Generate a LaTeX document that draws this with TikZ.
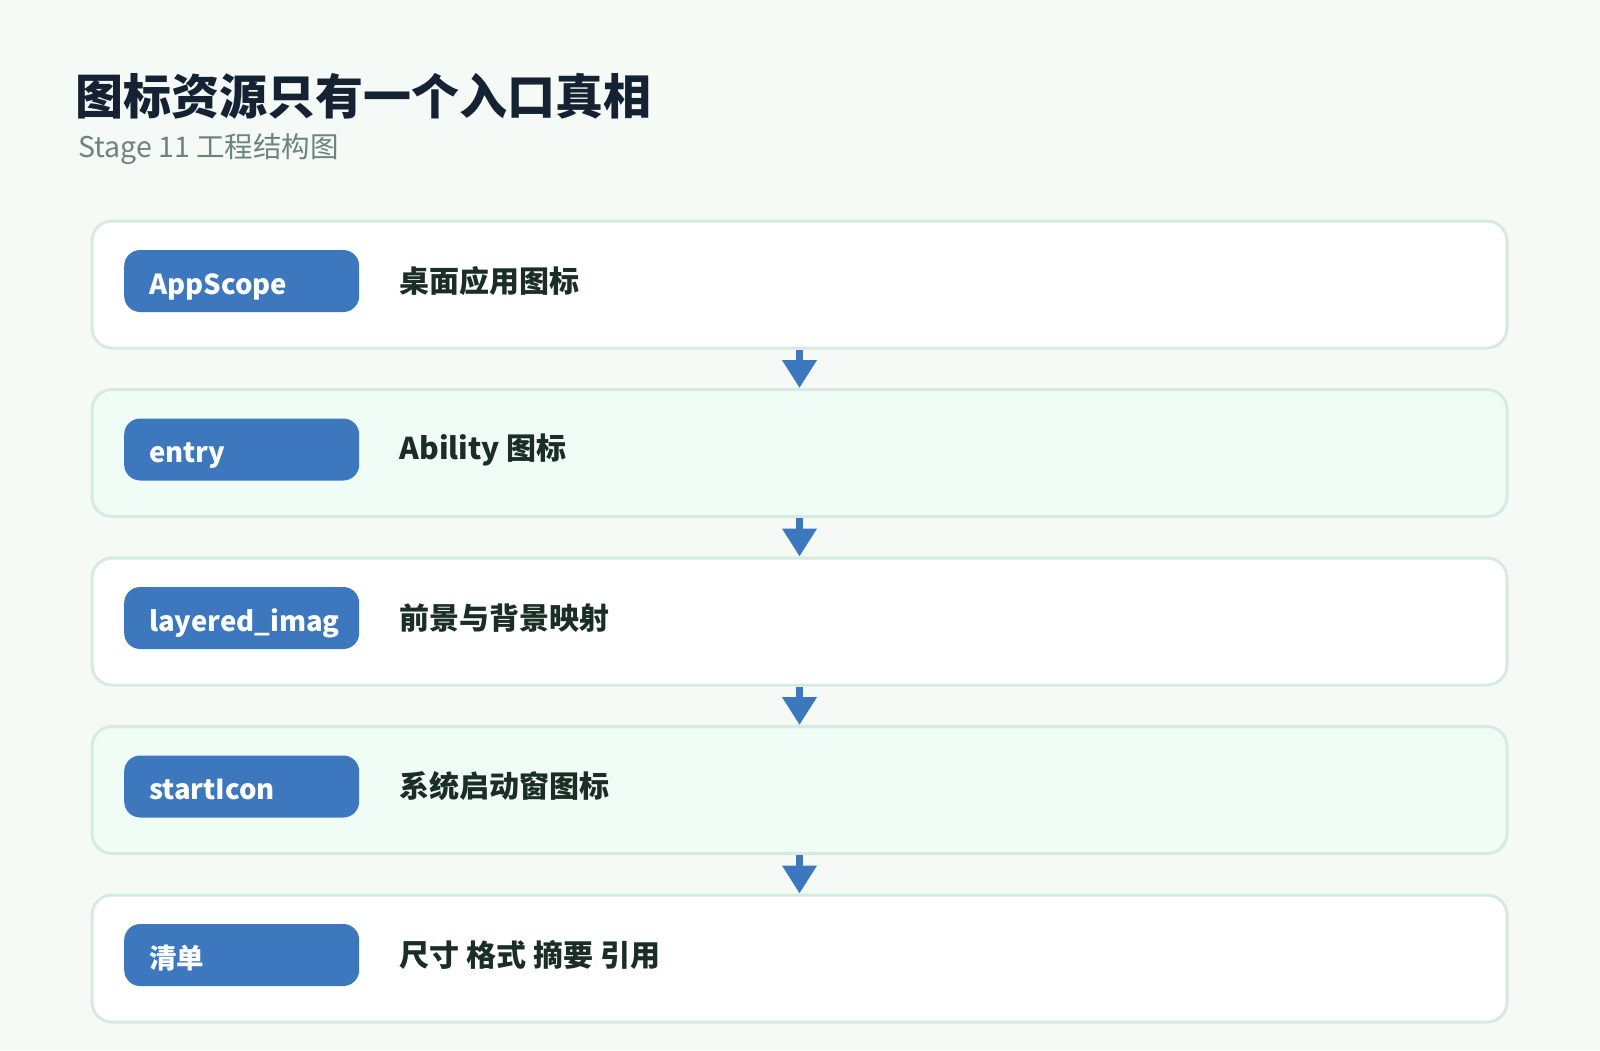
\documentclass[tikz,border=0pt]{standalone}
\usepackage{fontspec}
\setmainfont{Noto Sans CJK SC}
\usetikzlibrary{positioning,arrows.meta}

\definecolor{bgmint}{HTML}{F5FAF7}
\definecolor{panelmint}{HTML}{F0FDF6}
\definecolor{panelline}{HTML}{D6EBE0}
\definecolor{tagblue}{HTML}{3D78BF}
\definecolor{titleink}{HTML}{142233}
\definecolor{subink}{HTML}{6B8577}
\definecolor{descink}{HTML}{1B2E26}

\begin{document}
\begin{tikzpicture}[x=1pt,y=-1pt,node distance=38.5pt,
  panel/.style={draw=panelline,line width=3pt,rounded corners=20pt,
    minimum width=1415pt,minimum height=127pt,inner sep=0pt},
  white panel/.style={panel,fill=white},
  mint panel/.style={panel,fill=panelmint},
  tag/.style={fill=tagblue,text=white,rounded corners=16pt,minimum height=62pt,
    inner xsep=25pt,text width=185pt,text height=26pt,text depth=0pt,align=left,
    font=\fontsize{27.5}{32}\selectfont\bfseries},
  desc/.style={text=descink,inner sep=0pt,font=\fontsize{30}{35}\selectfont\bfseries},
  flow/.style={draw=tagblue,line width=7pt,-{Triangle[width=33pt,length=28pt]}}]

  \fill[bgmint] (0,0) rectangle (1600,1050);
  \useasboundingbox (0,0) rectangle (1600,1050);

  % heading
  \node[anchor=base west,inner sep=0pt,text=titleink,
    font=\fontsize{48}{56}\selectfont\bfseries] (title) at (75,114) {图标资源只有一个入口真相};
  \node[anchor=base west,inner sep=0pt,text=subink,
    font=\fontsize{28.5}{33}\selectfont] (subtitle) at (78,157) {Stage 11 工程结构图};

  % panels
  \node[white panel] (appscope) at (799.5,284.5) {};
  \node[mint panel, below=of appscope] (entry) {};
  \node[white panel, below=of entry] (layered) {};
  \node[mint panel, below=of layered] (starticon) {};
  \node[white panel, below=of starticon] (manifest) {};

  % tags and descriptions
  \node[tag,anchor=west] (appscope tag) at ([xshift=33.5pt,yshift=3.5pt]appscope.west) {AppScope};
  \node[desc,right=40pt of appscope tag] (appscope desc) {桌面应用图标};

  \node[tag,anchor=west] (entry tag) at ([xshift=33.5pt,yshift=3.5pt]entry.west) {entry};
  \node[desc,right=40pt of entry tag] (entry desc) {Ability 图标};

  \node[tag,anchor=west] (layered tag) at ([xshift=33.5pt,yshift=3.5pt]layered.west) {layered\_imag};
  \node[desc,right=40pt of layered tag] (layered desc) {前景与背景映射};

  \node[tag,anchor=west] (starticon tag) at ([xshift=33.5pt,yshift=3.5pt]starticon.west) {startIcon};
  \node[desc,right=40pt of starticon tag] (starticon desc) {系统启动窗图标};

  \node[tag,anchor=west] (manifest tag) at ([xshift=33.5pt,yshift=3.5pt]manifest.west) {清单};
  \node[desc,right=40pt of manifest tag] (manifest desc) {尺寸 格式 摘要 引用};

  % connectors
  \path (appscope) edge[flow] (entry)
        (entry) edge[flow] (layered)
        (layered) edge[flow] (starticon)
        (starticon) edge[flow] (manifest);
\end{tikzpicture}
\end{document}
